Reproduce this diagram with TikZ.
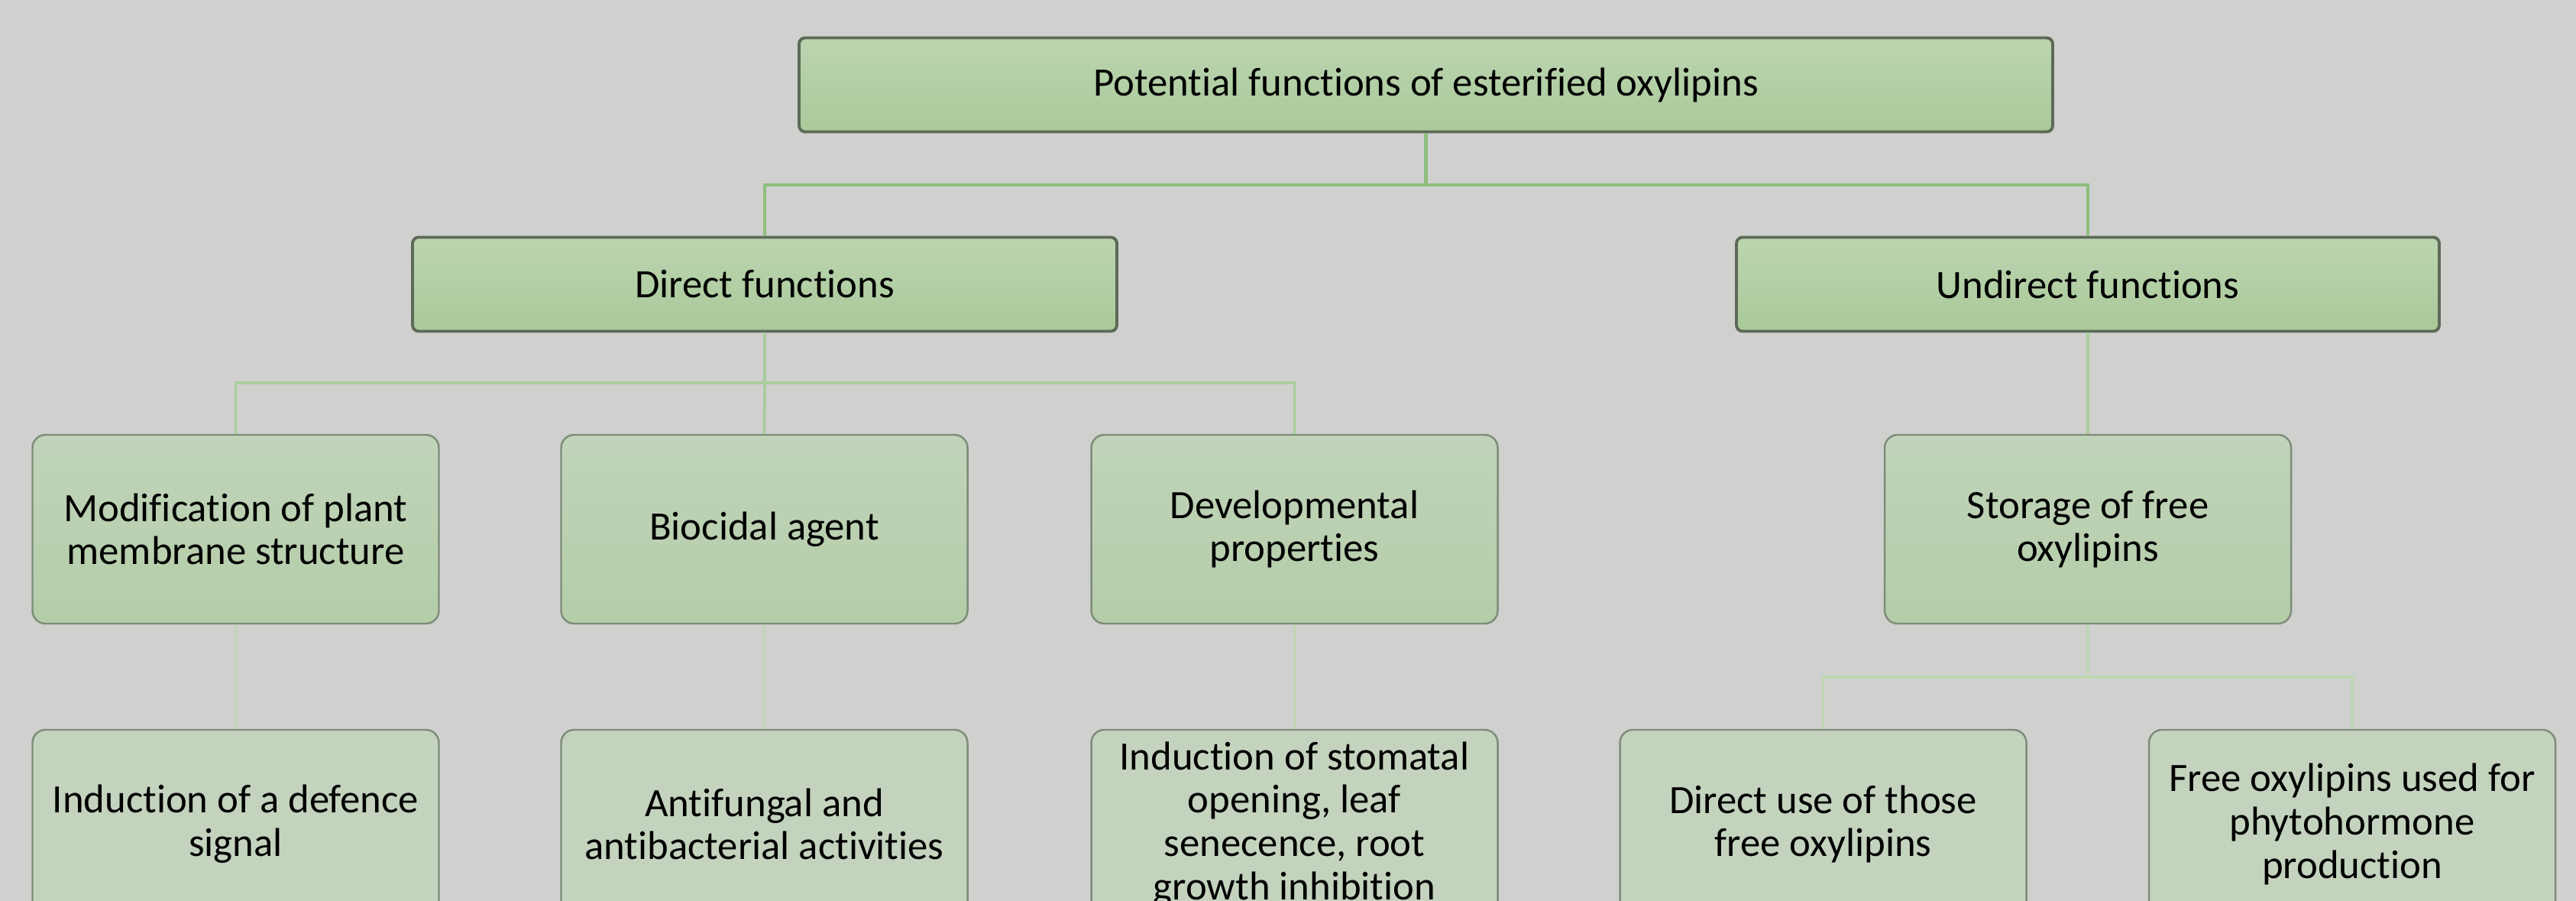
\documentclass[tikz,border=0pt]{standalone}
\usepackage{fontspec}
\setmainfont{Carlito}[Ligatures=NoCommon]
\definecolor{bggray}{HTML}{D0D0CF}
\definecolor{boxline}{HTML}{5C6A57}
\definecolor{softline}{HTML}{7E8C79}
\definecolor{topfillA}{HTML}{BCD5B0}
\definecolor{topfillB}{HTML}{A9C99A}
\definecolor{midfillA}{HTML}{C1D4BA}
\definecolor{midfillB}{HTML}{B4CDA8}
\definecolor{lowfill}{HTML}{C4D3BE}
\definecolor{linkA}{HTML}{8DBF7C}
\definecolor{linkB}{HTML}{A9CD9B}
\definecolor{linkC}{HTML}{BED7B3}
\newcommand{\boxfont}{\fontsize{15}{16.1}\selectfont}
\begin{document}
\begin{tikzpicture}[x=1cm,y=-1cm,
        headbox/.style={draw=boxline,line width=1.1pt,rounded corners=0.08cm,
            top color=topfillA,bottom color=topfillB,
            minimum width=#1,minimum height=1.23cm,inner sep=0pt,font=\boxfont},
        midbox/.style={draw=softline,line width=0.7pt,rounded corners=0.17cm,
            top color=midfillA,bottom color=midfillB,align=center,
            minimum width=5.32cm,minimum height=2.47cm,inner sep=0pt,font=\boxfont},
        lowbox/.style={draw=softline,line width=0.7pt,rounded corners=0.17cm,
            fill=lowfill,align=center,
            minimum width=5.32cm,minimum height=2.47cm,inner sep=0pt,font=\boxfont},
        linkone/.style={draw=linkA,line width=1.2pt},
        linktwo/.style={draw=linkB,line width=1pt},
        linkthree/.style={draw=linkC,line width=1pt}]
        \fill[bggray] (0,0) rectangle (33.72,11.79);
        \useasboundingbox (0,0) rectangle (33.72,11.79);

        % level 1 and 2
        \node[headbox=16.41cm] (top) at (18.665,1.11) {Potential functions of esterified oxylipins};
        \node[headbox=9.22cm] (direct) at (10.01,3.72) {Direct functions};
        \node[headbox=9.20cm] (undirect) at (27.33,3.72) {Undirect functions};

        % level 3
        \node[midbox] (membrane) at (3.085,6.925) {Modification of plant\\membrane structure};
        \node[midbox] (biocidal) at (10.005,6.925) {Biocidal agent};
        \node[midbox] (develop) at (16.945,6.925) {Developmental\\properties};
        \node[midbox] (storage) at (27.33,6.925) {Storage of free\\oxylipins};

        % level 4
        \node[lowbox] (defence) at (3.085,10.785) {Induction of a defence\\signal};
        \node[lowbox] (antifungal) at (10.005,10.785) {Antifungal and\\antibacterial activities};
        \node[lowbox] (stomatal) at (16.945,10.785) {Induction of stomatal\\opening, leaf\\senecence, root\\growth inhibition};
        \node[lowbox] (directuse) at (23.865,10.785) {Direct use of those\\free oxylipins};
        \node[lowbox] (phyto) at (30.79,10.785) {Free oxylipins used for\\phytohormone\\production};

        % connectors
        \coordinate (J1) at (18.665,2.42);
        \coordinate (J2) at (10.01,5.01);
        \coordinate (J3) at (27.33,8.86);
        \draw[linkone] (top.south) -- (J1) -| (direct.north);
        \draw[linkone] (J1) -| (undirect.north);
        \draw[linktwo] (direct.south) -- (J2) -| (membrane.north);
        \draw[linktwo] (J2) -- (biocidal.north);
        \draw[linktwo] (J2) -| (develop.north);
        \draw[linktwo] (undirect.south) -- (storage.north);
        \draw[linkthree] (membrane.south) -- (defence.north);
        \draw[linkthree] (biocidal.south) -- (antifungal.north);
        \draw[linkthree] (develop.south) -- (stomatal.north);
        \draw[linkthree] (storage.south) -- (J3) -| (directuse.north);
        \draw[linkthree] (J3) -| (phyto.north);
\end{tikzpicture}
\end{document}
